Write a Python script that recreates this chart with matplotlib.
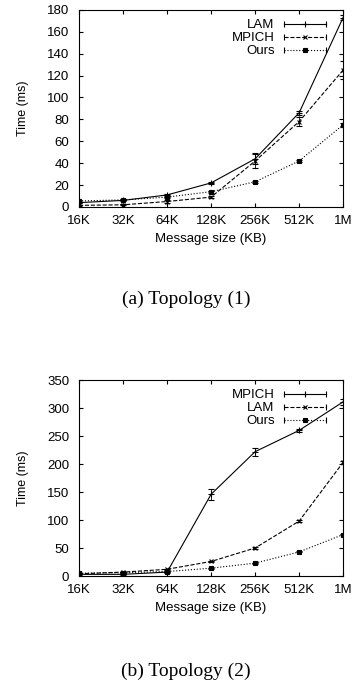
import numpy as np
import matplotlib
matplotlib.use('Agg')
import matplotlib.pyplot as plt
from matplotlib.lines import Line2D
from matplotlib.legend_handler import HandlerLine2D, HandlerTuple

plt.rcParams['font.family'] = ['Liberation Sans', 'DejaVu Sans']

sizes = ['16K', '32K', '64K', '128K', '256K', '512K', '1M']

# Topology (1)
t1_lam = [4, 6, 11, 22, 44, 86, 173]
t1_lam_err = [0.5, 0.5, 1, 1, 5, 2, 2]
t1_mpich = [1.5, 2, 5, 9, 42, 78, 125]
t1_mpich_err = [0.5, 0.5, 1, 1, 6, 4, 8]
t1_ours = [5.5, 6.5, 9, 14, 23, 42, 75]
t1_ours_err = [0.5, 0.5, 0.5, 1, 1, 1, 2]

# Topology (2)
t2_mpich = [3, 3, 7, 146, 222, 260, 311]
t2_mpich_err = [1, 1, 1, 10, 7, 3, 5]
t2_lam = [4, 7, 12, 26, 50, 98, 203]
t2_lam_err = [1, 1, 1, 1, 1, 2, 3]
t2_ours = [5, 6, 8, 14, 23, 43, 74]
t2_ours_err = [1, 1, 1, 1, 1, 1, 1]


def draw(ax, series, ymax, ystep):
    x = np.arange(len(sizes))
    handles, labels, hmap = [], [], {}
    for vals, errs, label, ls, mk, ms in series:
        ax.errorbar(x, vals, yerr=errs, color='black', lw=0.8, ls=ls,
                    marker=mk, ms=ms, mew=0.8, capsize=2, elinewidth=0.6,
                    capthick=0.6)
        # gnuplot style key: line with marker and end caps
        line = Line2D([], [], color='black', lw=0.8, ls=ls, marker=mk,
                      ms=ms, mew=0.8)
        caps = Line2D([], [], color='black', ls='none', marker='|', ms=5,
                      mew=0.8)
        hmap[line] = HandlerLine2D(numpoints=1)
        hmap[caps] = HandlerLine2D(numpoints=2, marker_pad=0)
        handles.append((line, caps))
        labels.append(label)
    hmap[tuple] = HandlerTuple(ndivide=1, pad=0)
    ax.set_xlim(0, len(sizes) - 1)
    ax.set_ylim(0, ymax)
    ax.set_xticks(x)
    ax.set_xticklabels(sizes)
    ax.set_yticks(np.arange(0, ymax + 1, ystep))
    ax.tick_params(direction='in', top=True, right=True, labelsize=9.5,
                   length=3, width=0.8)
    ax.tick_params(axis='x', pad=6)
    ax.tick_params(axis='y', pad=7)
    for s in ax.spines.values():
        s.set_linewidth(0.8)
    ax.set_xlabel('Message size (KB)', fontsize=9.5, labelpad=4)
    ax.set_ylabel('Time (ms)', fontsize=9, labelpad=13)
    ax.legend(handles, labels, handler_map=hmap, loc='upper right',
              bbox_to_anchor=(0.97, 1.0), markerfirst=False, frameon=False,
              fontsize=9.5, handlelength=3.2, labelspacing=0.05,
              borderaxespad=0.3, handletextpad=0.7)


fig = plt.figure(figsize=(3.53, 6.82), dpi=100)
ax1 = fig.add_axes([0.224, 0.6965, 0.748, 0.289])
ax2 = fig.add_axes([0.224, 0.1554, 0.748, 0.2874])

draw(ax1, [
    (t1_lam, t1_lam_err, 'LAM', '-', '+', 4),
    (t1_mpich, t1_mpich_err, 'MPICH', '--', 'x', 3.5),
    (t1_ours, t1_ours_err, 'Ours', ':', 's', 2.5),
], 180, 20)

draw(ax2, [
    (t2_mpich, t2_mpich_err, 'MPICH', '-', '+', 4),
    (t2_lam, t2_lam_err, 'LAM', '--', 'x', 3.5),
    (t2_ours, t2_ours_err, 'Ours', ':', 's', 2.5),
], 350, 50)

serif = ['Liberation Serif', 'DejaVu Serif']
fig.text(0.527, 1 - 299 / 682, '(a) Topology (1)', ha='center', va='center',
         fontsize=14, family=serif)
fig.text(0.527, 1 - 671 / 682, '(b) Topology (2)', ha='center', va='center',
         fontsize=14, family=serif)

fig.savefig('out.png', dpi=100)
